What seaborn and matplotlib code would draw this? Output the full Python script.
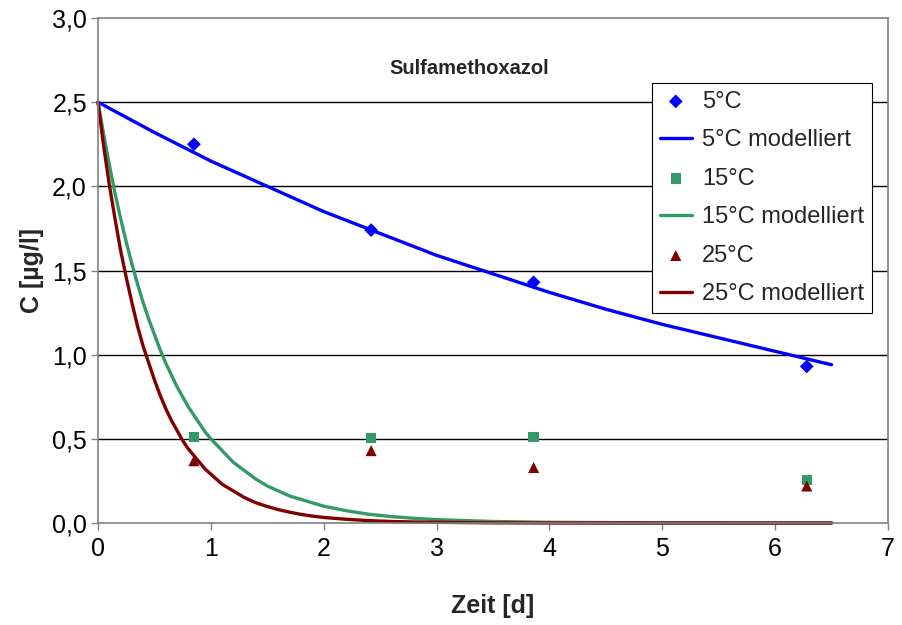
import matplotlib
matplotlib.use('Agg')
from matplotlib import pyplot as plt
import pandas as pd
import seaborn as sns

sns.set_style('white')
plt.rcParams['font.family'] = ['Liberation Sans', 'DejaVu Sans']

# measured points (time in days, concentration in ug/l)
t_meas = [0.0, 0.85, 2.42, 3.86, 6.28]
c_5 = [2.5, 2.25, 1.74, 1.43, 0.93]
c_15 = [2.5, 0.51, 0.505, 0.51, 0.255]
c_25 = [2.5, 0.37, 0.43, 0.33, 0.22]

# modelled curves
t_mod5 = [0.0, 0.5, 1.0, 1.5, 2.0, 2.5, 3.0, 3.5, 4.0, 4.5, 5.0, 5.5, 6.0, 6.5]
c_mod5 = [2.50, 2.32, 2.15, 2.00, 1.85, 1.72, 1.59, 1.48, 1.37, 1.27, 1.18, 1.10, 1.02, 0.94]

t_mod = [0.0, 0.05, 0.1, 0.15, 0.2, 0.25, 0.3, 0.35, 0.4, 0.45, 0.5, 0.55, 0.6, 0.65,
         0.7, 0.75, 0.8, 0.85, 0.9, 0.95, 1.0, 1.1, 1.2, 1.3, 1.4, 1.5, 1.6, 1.7, 1.8,
         1.9, 2.0, 2.2, 2.4, 2.6, 2.8, 3.0, 3.5, 4.0, 5.0, 6.0, 6.5]
c_mod15 = [2.50, 2.31, 2.13, 1.96, 1.81, 1.67, 1.54, 1.42, 1.31, 1.21, 1.12, 1.03,
           0.95, 0.88, 0.81, 0.75, 0.69, 0.64, 0.59, 0.54, 0.50, 0.43, 0.36, 0.31,
           0.26, 0.22, 0.19, 0.16, 0.14, 0.12, 0.10, 0.073, 0.052, 0.038, 0.028,
           0.020, 0.009, 0.004, 0.001, 0.0, 0.0]
c_mod25 = [2.50, 2.24, 2.01, 1.81, 1.62, 1.46, 1.31, 1.17, 1.05, 0.95, 0.85, 0.76,
           0.68, 0.61, 0.55, 0.49, 0.44, 0.40, 0.36, 0.32, 0.29, 0.23, 0.19, 0.15,
           0.12, 0.098, 0.079, 0.064, 0.051, 0.041, 0.033, 0.022, 0.014, 0.009,
           0.006, 0.004, 0.001, 0.0, 0.0, 0.0, 0.0]

x_ticks = [0, 1, 2, 3, 4, 5, 6, 7]
y_ticks = [0.0, 0.5, 1.0, 1.5, 2.0, 2.5, 3.0]
y_ticklabels = ['0,0', '0,5', '1,0', '1,5', '2,0', '2,5', '3,0']

BLUE = '#0000FF'
GREEN = '#339966'
RED = '#800000'
GRAY = '#808080'

fig = plt.figure(figsize=(9.02, 6.25), dpi=100)
ax = fig.add_axes([98 / 902, 1 - 523 / 625, 790 / 902, 505 / 625])

for y in y_ticks[1:-1]:
    ax.axhline(y, color='black', lw=1.0, zorder=0)

series = [
    (c_5, t_mod5, c_mod5, BLUE, 'D', 7, '5°C'),
    (c_15, t_mod, c_mod15, GREEN, 's', 7.5, '15°C'),
    (c_25, t_mod, c_mod25, RED, '^', 8, '25°C'),
]
for c_pts, tm, cm, col, mk, ms, lab in series:
    pts = pd.DataFrame({'t': t_meas[1:], 'c': c_pts[1:]})
    sns.scatterplot(data=pts, x='t', y='c', ax=ax, color=col, marker=mk, s=ms ** 2,
                    edgecolor='none', label=lab, zorder=3)
    mod = pd.DataFrame({'t': tm, 'c': cm})
    sns.lineplot(data=mod, x='t', y='c', ax=ax, color=col, lw=2.4,
                 label=lab + ' modelliert', zorder=2, clip_on=False)

ax.set_xlim(0, 7)
ax.set_ylim(0, 3)
ax.set_xticks(x_ticks)
ax.set_yticks(y_ticks)
ax.set_yticklabels(y_ticklabels)
ax.tick_params(axis='both', labelsize=18, colors=GRAY, labelcolor='black',
               length=5, width=1, direction='out', left=True, bottom=True)
ax.tick_params(axis='y', pad=3)
ax.tick_params(axis='x', pad=5)
for side in ['left', 'bottom', 'top', 'right']:
    ax.spines[side].set_visible(True)
    ax.spines[side].set_color(GRAY)
    ax.spines[side].set_linewidth(1.2)

ax.set_xlabel('Zeit [d]', fontsize=18, fontweight='bold', labelpad=24)
ax.set_ylabel('C [µg/l]', fontsize=18, fontweight='bold', labelpad=6)
ax.text(0.47, 0.9, 'Sulfamethoxazol', transform=ax.transAxes, fontsize=14.5,
        fontweight='bold', ha='center', va='center')

handles, labels = ax.get_legend_handles_labels()
order = ['5°C', '5°C modelliert', '15°C', '15°C modelliert', '25°C', '25°C modelliert']
hmap = dict(zip(labels, handles))
leg = ax.legend([hmap[l] for l in order], order, loc='upper right',
                bbox_to_anchor=(872 / 902, 1 - 83 / 625), bbox_transform=fig.transFigure,
                fontsize=17, frameon=True, fancybox=False, framealpha=1,
                edgecolor='black', handlelength=1.35, handletextpad=0.45,
                labelspacing=0.7, borderpad=0.32, borderaxespad=0)
leg.get_frame().set_linewidth(0.8)

fig.savefig('out.png', dpi=100)
